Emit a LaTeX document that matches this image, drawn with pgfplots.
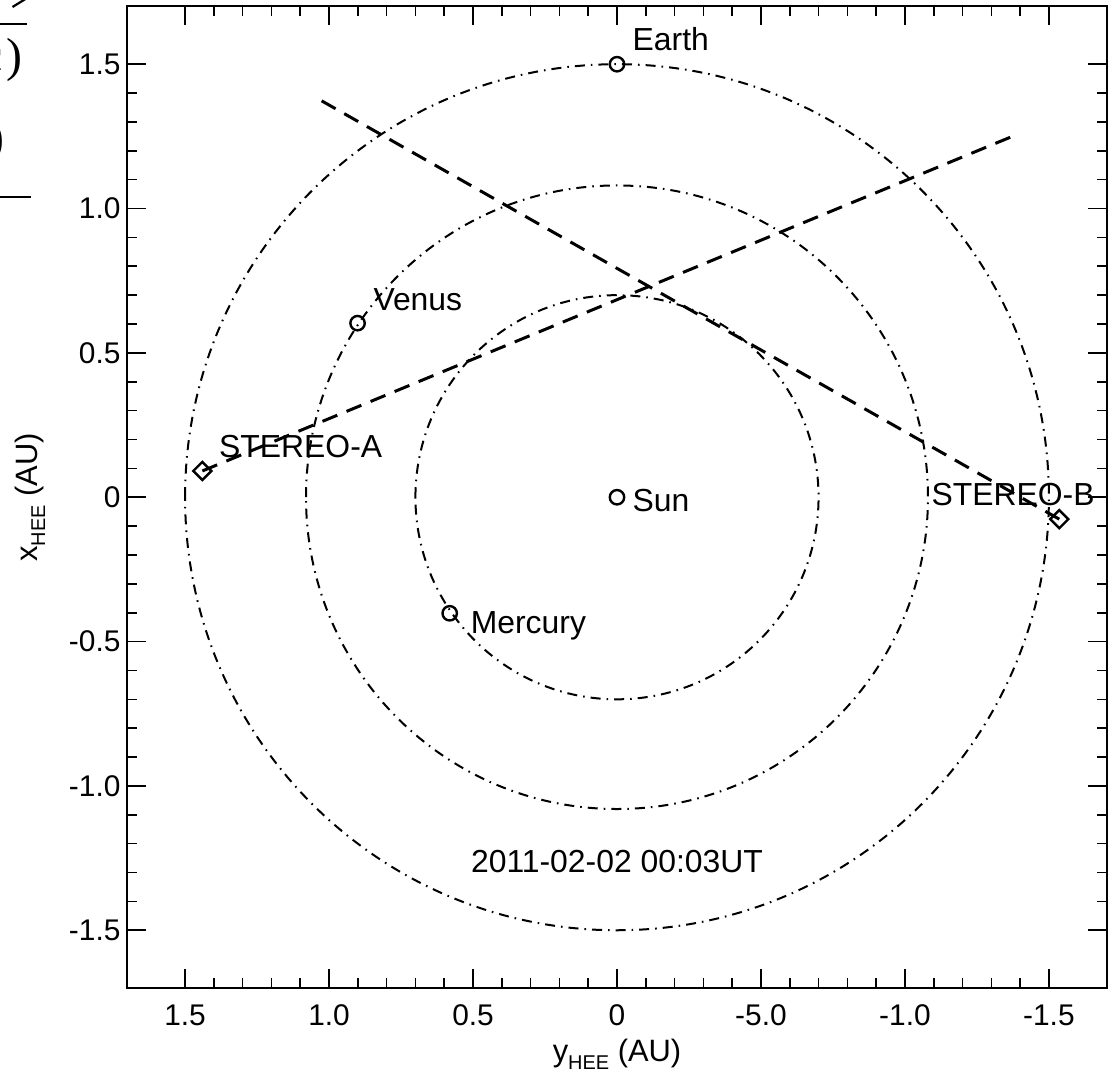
\documentclass[border=0pt]{standalone}
\usepackage{pgfplots}
\pgfplotsset{compat=1.18}
\usepackage{fontspec}
\setmainfont{Liberation Sans}
\newfontfamily\seriffont{Liberation Serif}

\begin{document}
\begin{tikzpicture}[x=1bp,y=1bp]
\path[use as bounding box] (-63.75,-42) rectangle (490.25,494);
% cropped remains of a neighbouring panel (top-left corner)
\begin{scope}
\clip (-63.75,-42) rectangle (490.25,494);
\draw[line width=1.1bp] (-57.5,490.5) -- (-51,494.5);
\draw[line width=1.2bp] (-70,482) -- (-50.25,482);
\node[anchor=base east, inner sep=0, font=\seriffont\fontsize{24}{28}\selectfont] at (-52.5,458) {c\kern1.5bp)};
\node[anchor=base east, inner sep=0, font=\seriffont\fontsize{24}{28}\selectfont] at (-61.2,417) {)};
\draw[line width=1.2bp] (-70,395.5) -- (-48,395.5);
\end{scope}
\begin{axis}[
  at={(0,0)}, anchor=south west,
  scale only axis, width=489.5bp, height=490.75bp,
  xmin=-1.7, xmax=1.7, ymin=-1.7, ymax=1.7,
  x dir=reverse,
  axis line style={line width=1bp},
  xtick={-1.5,-1,-0.5,0,0.5,1,1.5},
  xticklabels={-1.5,-1.0,-5.0,0,0.5,1.0,1.5},
  ytick={-1.5,-1,-0.5,0,0.5,1,1.5},
  yticklabels={-1.5,-1.0,-0.5,0,0.5,1.0,1.5},
  minor x tick num=4, minor y tick num=4,
  major tick length=9.5bp, minor tick length=5bp,
  tick style={line width=0.8bp, black},
  ticklabel style={font=\fontsize{15}{18}\selectfont},
  xticklabel style={yshift=-5bp},
  xlabel={y\raisebox{-4bp}{\fontsize{10}{10}\selectfont HEE} (AU)},
  ylabel={x\raisebox{-4bp}{\fontsize{10}{10}\selectfont HEE} (AU)},
  label style={font=\fontsize{15.5}{18}\selectfont},
  xlabel style={at={(axis description cs:0.5,-0.0754)}, anchor=base},
  ylabel style={at={(axis description cs:-0.0924,0.5)}, anchor=base, rotate=0},
  clip=true,
]
% orbits
\draw[line width=1bp, dash pattern=on 5bp off 3bp on 0.8bp off 3bp] (axis cs:0,0) circle[radius=0.70];
\draw[line width=1bp, dash pattern=on 5bp off 3bp on 0.8bp off 3bp] (axis cs:0,0) circle[radius=1.08];
\draw[line width=1bp, dash pattern=on 5bp off 3bp on 0.8bp off 3bp] (axis cs:0,0) circle[radius=1.50];
% lines of sight
\addplot[line width=1.5bp, dash pattern=on 8bp off 5bp] coordinates {(1.440,0.091) (-1.395,1.259)};
\addplot[line width=1.5bp, dash pattern=on 8bp off 5bp] coordinates {(-1.536,-0.076) (1.052,1.388)};
% bodies
\addplot[only marks, mark=o, mark size=3.6bp, mark options={line width=1.2bp, black}] coordinates {(0,0) (0,1.5) (0.901,0.603) (0.581,-0.402)};
\addplot[only marks, mark=square, mark size=3.2bp, mark options={rotate=45, line width=1.2bp, black, fill=white}] coordinates {(1.440,0.091) (-1.536,-0.076)};
% labels
\begin{scope}[every node/.style={inner sep=0, font=\fontsize{16}{19}\selectfont}]
\node[anchor=base west] at (axis cs:-0.053,1.547) {Earth};
\node[anchor=base west] at (axis cs:0.847,0.647) {Venus};
\node[anchor=base west] at (axis cs:-0.053,-0.048) {Sun};
\node[anchor=base west] at (axis cs:0.509,-0.471) {Mercury};
\node[anchor=base west] at (axis cs:1.383,0.138) {STEREO-A};
\node[anchor=base west] at (axis cs:-1.091,-0.028) {STEREO-B};
\node[anchor=base] at (axis cs:0,-1.299) {2011-02-02 00:03UT};
\end{scope}
\end{axis}
\end{tikzpicture}
\end{document}
